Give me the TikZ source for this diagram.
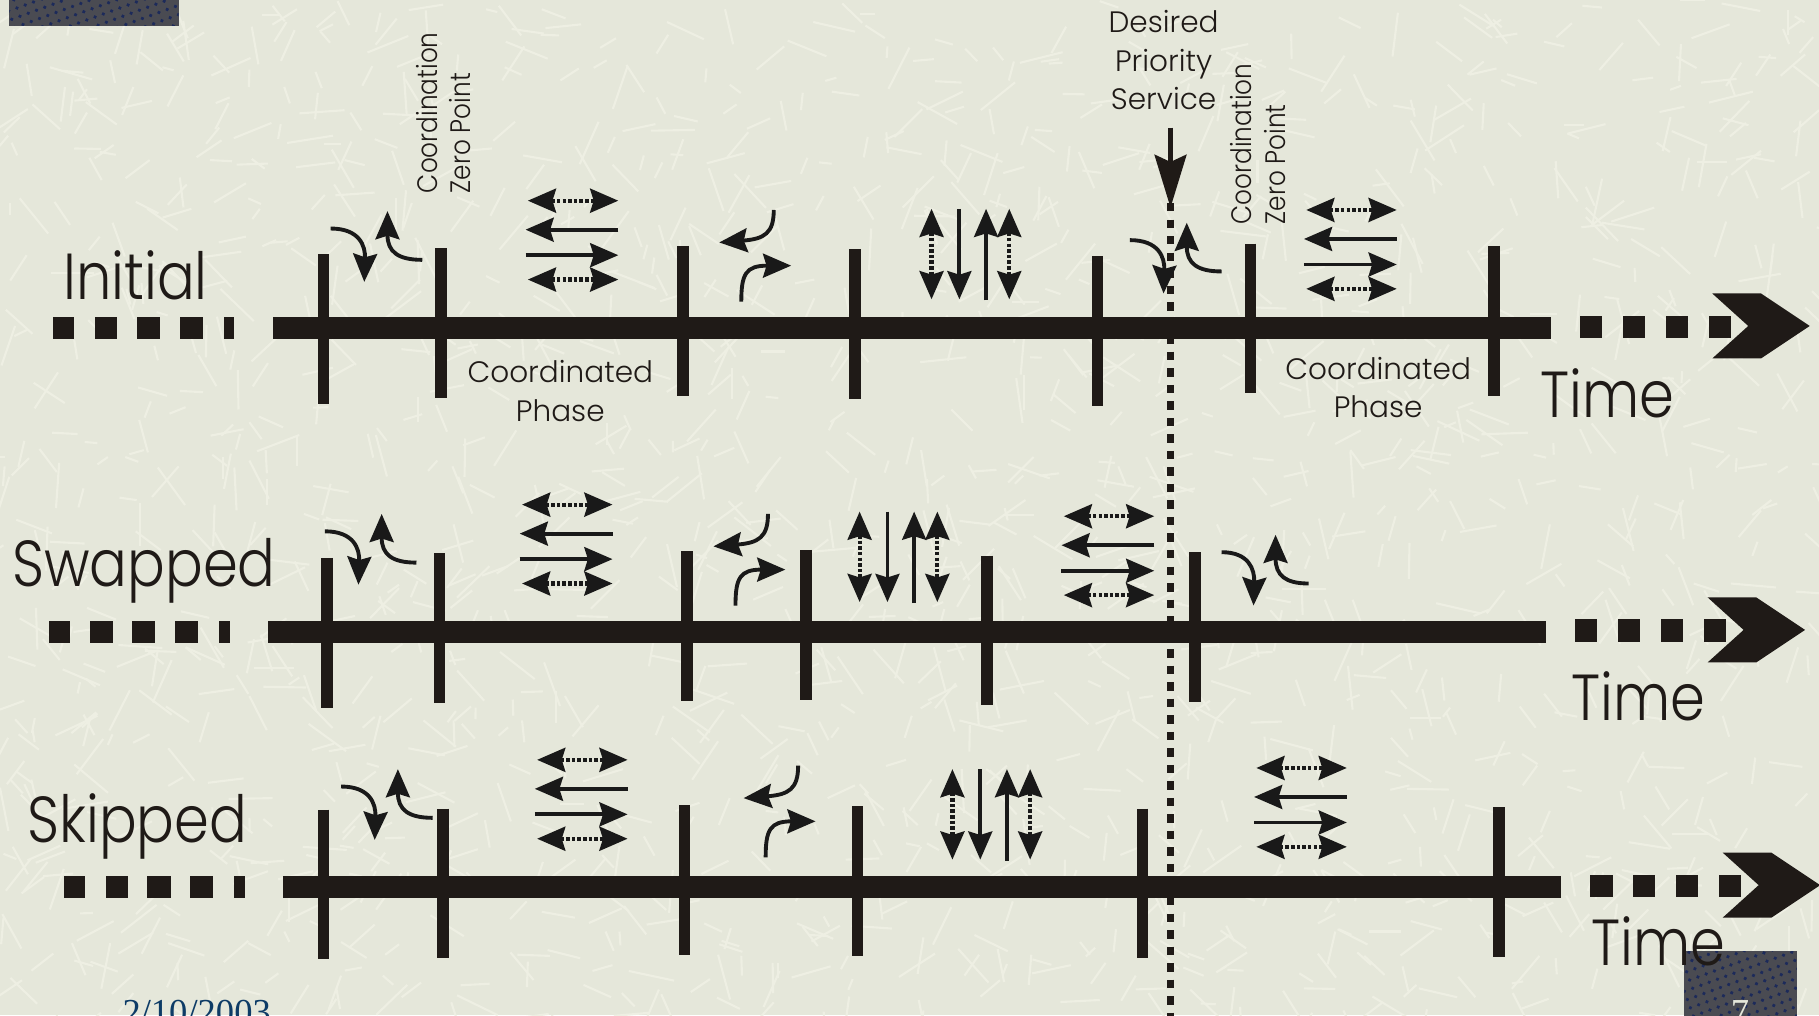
\documentclass[tikz,border=0pt]{standalone}
\usepackage{fontspec}
\setmainfont{Poppins Light}
\newfontfamily\rowfont{Poppins Light}[FakeStretch=0.86]
\newfontfamily\zerofont{Poppins Light}[FakeStretch=0.88]
\newfontfamily\footfont{Liberation Serif}
\usetikzlibrary{arrows.meta,patterns.meta}
\definecolor{inkdark}{HTML}{1F1A17}
\definecolor{paper}{HTML}{E5E7DA}
\definecolor{stick}{HTML}{EEEFE3}
\definecolor{slate}{HTML}{4A4B52}
\definecolor{navydot}{HTML}{1C2A5A}
\definecolor{datenavy}{HTML}{0D3B66}
\tikzset{
	x=0.0116cm, y=-0.0116cm,
	tickmark/.style={draw=inkdark, line width=3.3pt},
	blockfill/.style={fill=inkdark},
	cornerdots/.style={pattern={Dots[radius=0.55pt, distance=2.5pt, angle=20]}, pattern color=navydot},
	solidarrow/.style={-{Stealth[length=8pt,width=6.8pt,inset=1pt]}, line width=1.1pt, draw=black!90},
	dotarrow/.style={{Stealth[length=8pt,width=6.8pt,inset=1pt]}-{Stealth[length=8pt,width=6.8pt,inset=1pt]}, line width=1.2pt, dash pattern=on 1pt off 0.6pt, draw=black!90},
	rowlabel/.style={anchor=base west, inner sep=0pt, font=\rowfont\fontsize{18.5}{22}\selectfont, text=inkdark},
	smalllabel/.style={align=center, inner sep=0pt, font=\fontsize{8.4}{10.9}\selectfont, text=inkdark},
	zerolabel/.style={rotate=90, anchor=north west, align=left, inner sep=0pt, font=\zerofont\fontsize{8}{9.6}\selectfont, text=inkdark},
	% one time axis, origin at the left end of the solid bar
	pics/timeline/.style={code={
		\fill[blockfill] (0,-9.5) rectangle (1102,9.5);
		\foreach \dx/\dw in {-189/18, -153/19, -117/20, -80/20, -42/9}
			\fill[blockfill] (\dx,-9.5) rectangle ++(\dw,19);
		\foreach \dx in {1127,1164,1201,1238}
			\fill[blockfill] (\dx,-11) rectangle ++(19,19);
		\fill[blockfill] (1241,-30) -- (1283,-30) -- (1325,-2) -- (1283,26) -- (1241,26) -- (1272,-2) -- cycle;
	}},
	pics/ewgroup/.style={code={
		\draw[dotarrow] (2,0) -- (80,0);
		\draw[solidarrow] (80,25) -- (0,25);
		\draw[solidarrow] (0,47) -- (80,47);
		\draw[dotarrow] (2,68) -- (80,68);
	}},
	pics/nsgroup/.style={code={
		\draw[dotarrow] (0,0) -- (0,78);
		\draw[solidarrow] (24,0) -- (24,78);
		\draw[solidarrow] (47,79) -- (47,0);
		\draw[dotarrow] (67,0) -- (67,78);
	}},
	pics/leftpair/.style={code={
		\draw[solidarrow] (0,0) .. controls (25,0) and (30,15) .. (29,46);
		\draw[solidarrow] (79,27) .. controls (58,27) and (49,20) .. (49,-15);
	}},
	pics/turnpair/.style={code={
		\draw[solidarrow] (0,0) .. controls (0,20) and (-8,25) .. (-47,28);
		\draw[solidarrow] (-28,79) .. controls (-28,55) and (-24,48) .. (15,48);
	}},
}
\begin{document}
\begin{tikzpicture}
	\useasboundingbox (0,0) rectangle (1568,875);
	\clip (0,0) rectangle (1568,875);
	\fill[paper] (0,0) rectangle (1568,875);

	% paper texture
	\pgfmathsetseed{42}
	\foreach \i in {1,...,1600}{
		\pgfmathsetmacro{\sx}{random(0,1568)}
		\pgfmathsetmacro{\sy}{random(0,875)}
		\pgfmathsetmacro{\sa}{random(0,180)}
		\pgfmathsetmacro{\sl}{random(10,40)}
		\draw[stick, line width=0.6pt] (\sx,\sy) -- ++(\sa:\sl);
	}

	% corner blocks
	\fill[slate] (8,-2) rectangle (154,22);
	\fill[cornerdots] (8,-2) rectangle (154,22);
	\fill[slate] (1452,820) rectangle (1549,880);
	\fill[cornerdots] (1452,820) rectangle (1549,880);
	\node[anchor=base, inner sep=0pt, text=paper, font=\footfont\fontsize{10.4}{12}\selectfont] (pagenum) at (1500,883) {7};
	\node[anchor=base west, inner sep=0pt, text=datenavy, font=\footfont\fontsize{10.4}{12}\selectfont] (datestamp) at (105,883) {2/10/2003};

	% service line
	\draw[inkdark, line width=2pt, dash pattern=on 2.4pt off 2.3pt] (1009,175) -- (1009,880);
	\draw[inkdark, line width=1.5pt, -{Stealth[length=15pt,width=9pt,inset=2pt]}] (1009,110) -- (1009,179);

	% time axes
	\pic (axisA) at (235,283) {timeline};
	\pic (axisB) at (231,545) {timeline};
	\pic (axisC) at (244,765) {timeline};

	% phase boundaries
	\foreach \tx/\ty in {279/219, 380/214, 589/212, 737/215, 946/221, 1078/210, 1288/212,
		282/481, 379/477, 592/475, 695/474, 851/479, 1030/476,
		279/698, 382/697, 590/694, 739/695, 985/697, 1292/696}
		\draw[tickmark] (\tx,\ty) -- ++(0,129);

	% movement symbols
	\pic (ltA) at (285,197) {leftpair};
	\pic (ltB) at (974,207) {leftpair};
	\pic (ltC) at (280,458) {leftpair};
	\pic[xscale=0.95] (ltD) at (1053,476) {leftpair};
	\pic (ltE) at (294,678) {leftpair};
	\pic (ewA) at (453,173) {ewgroup};
	\pic (ewB) at (1124,181) {ewgroup};
	\pic (ewC) at (448,435) {ewgroup};
	\pic (ewD) at (915,445) {ewgroup};
	\pic (ewE) at (461,655) {ewgroup};
	\pic (ewF) at (1081,662) {ewgroup};
	\pic (trA) at (667,181) {turnpair};
	\pic (trB) at (662,443) {turnpair};
	\pic (trC) at (688,660) {turnpair};
	\pic (nsA) at (803,180) {nsgroup};
	\pic (nsB) at (741,441) {nsgroup};
	\pic (nsC) at (821,663) {nsgroup};

	% texts
	\node[rowlabel] (initial) at (54,258) {Initial};
	\node[rowlabel] (swapped) at (10,506) {Swapped};
	\node[rowlabel] (skipped) at (23,726) {Skipped};
	\node[rowlabel] (timeA) at (1327,360) {Time};
	\node[rowlabel] (timeB) at (1354,621) {Time};
	\node[rowlabel] (timeC) at (1371,832) {Time};
	\node[smalllabel] (phaseA) at (483,337) {Coordinated\\Phase};
	\node[smalllabel] (phaseB) at (1188,334) {Coordinated\\Phase};
	\node[smalllabel] (desired) at (1003,52) {Desired\\Priority\\Service};
	\node[zerolabel] (zeroA) at (358,167) {Coordination\\Zero Point};
	\node[zerolabel] (zeroB) at (1060,194) {Coordination\\Zero Point};
\end{tikzpicture}
\end{document}
